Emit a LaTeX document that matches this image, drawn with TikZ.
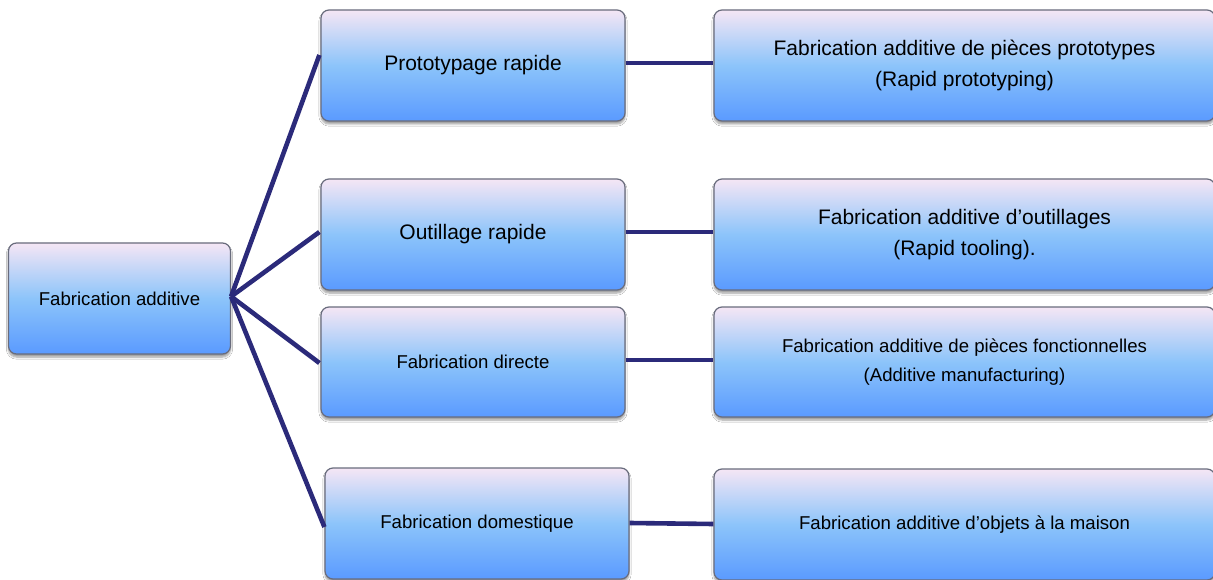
\documentclass[tikz,border=0pt]{standalone}
\usepackage{fontspec}
\setmainfont{Liberation Sans}
\usetikzlibrary{calc,shadows.blur}
\definecolor{linknavy}{RGB}{43,42,122}
\definecolor{boxtop}{RGB}{245,230,245}
\definecolor{boxmid}{RGB}{140,196,250}
\definecolor{boxbot}{RGB}{90,154,255}
\definecolor{boxedge}{RGB}{105,108,125}
\begin{document}
\begin{tikzpicture}[x=1pt,y=-1pt,
  card/.style={rectangle, rounded corners=8pt, draw=boxedge, line width=1.2pt,
    top color=boxtop, bottom color=boxbot, middle color=boxmid,
    blur shadow={shadow xshift=0pt, shadow yshift=-3pt, shadow blur steps=6, shadow opacity=40},
    minimum height=111pt, align=center, inner sep=0pt, text=black},
  bigtxt/.style={font=\fontsize{21}{31}\selectfont},
  smalltxt/.style={font=\fontsize{18.6}{29}\selectfont},
  link/.style={draw=linknavy, line width=4.6pt}]
\clip (0,0) rectangle (1213,580);
\fill[white] (0,0) rectangle (1213,580);

% root
\node[card, smalltxt, minimum width=222pt] (root) at (119.5,298.5) {Fabrication additive};

% middle column
\node[card, bigtxt, minimum width=304pt] (proto) at (473,65.5) {Prototypage rapide};
\node[card, bigtxt, minimum width=304pt] (outil) at (473,234.5) {Outillage rapide};
\node[card, smalltxt, minimum width=304pt, minimum height=110pt] (direct) at (473,362) {Fabrication directe};
\node[card, smalltxt, minimum width=304pt] (domest) at (477,523.5) {Fabrication domestique};

% right column
\node[card, bigtxt, minimum width=501pt] (rproto) at (964.5,65.5) {Fabrication additive de pièces prototypes\\(Rapid prototyping)};
\node[card, bigtxt, minimum width=501pt] (routil) at (964.5,234.5) {Fabrication additive d’outillages\\(Rapid tooling).};
\node[card, smalltxt, minimum width=501pt, minimum height=110pt] (rdirect) at (964.5,362) {Fabrication additive de pièces fonctionnelles\\(Additive manufacturing)};
\node[card, smalltxt, minimum width=501pt] (rdomest) at (964.5,524.5) {Fabrication additive d’objets à la maison};

% fan-out from the root
\coordinate (hub) at ($(root.east)+(0,-2)$);
\draw[link] (hub) -- ($(proto.west)+(-1,-10.5)$);
\draw[link] (hub) -- ($(outil.west)+(-1,-2.5)$);
\draw[link] (hub) -- ($(direct.west)+(-1,1)$);
\draw[link] (hub) -- ($(domest.west)+(0,3.5)$);

% links to the descriptions
\draw[link] ($(proto.east)+(0,-2.5)$) -- ($(rproto.west)+(0,-2.5)$);
\draw[link] ($(outil.east)+(0,-2.5)$) -- ($(routil.west)+(0,-2.5)$);
\draw[link] ($(direct.east)+(0,-2)$) -- ($(rdirect.west)+(0,-2)$);
\draw[link] ($(domest.east)+(0,-0.5)$) -- ($(rdomest.west)+(0,-0.5)$);
\end{tikzpicture}
\end{document}
